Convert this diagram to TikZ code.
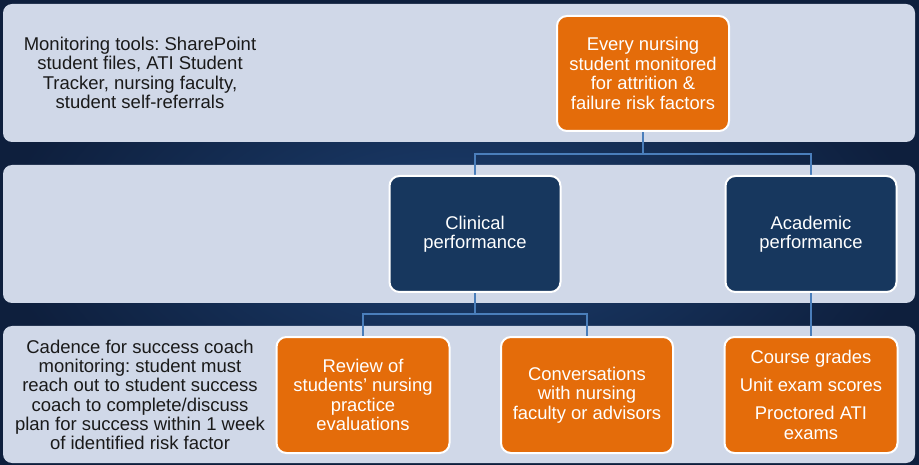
\documentclass[tikz,border=0pt]{standalone}
\usepackage{fontspec}
\setmainfont{Liberation Sans}
\frenchspacing
\usetikzlibrary{backgrounds}
\definecolor{bandc}{HTML}{D0D8E8}
\definecolor{orangec}{HTML}{E46C0A}
\definecolor{navyc}{HTML}{17375E}
\definecolor{connc}{HTML}{4A7EBB}
\definecolor{bgin}{HTML}{1C3F70}
\definecolor{bgout}{HTML}{0E1F3D}
\definecolor{txtc}{HTML}{1A1A1A}
\pgfdeclarelayer{bands}
\pgfdeclarelayer{lines}
\pgfsetlayers{background,bands,lines,main}
\tikzset{
  band/.style={fill=bandc, draw=none, rounded corners=9pt},
  boxbase/.style={draw=white, line width=2pt, rounded corners=10pt, text=white, align=center,
    font=\fontsize{18.4}{19.5}\selectfont, inner sep=2pt},
  orangebox/.style={boxbase, fill=orangec},
  navybox/.style={boxbase, fill=navyc},
  bandtext/.style={text=txtc, align=center, font=\fontsize{18.5}{19.3}\selectfont, inner sep=0pt},
  conn/.style={draw=connc, line width=2pt}
}
\begin{document}
\begin{tikzpicture}[x=1pt,y=-1pt]
\useasboundingbox (0,0) rectangle (919,465);
\begin{pgfonlayer}{background}
\shade[inner color=bgin, outer color=bgout] (0,0) rectangle (919,465);
\end{pgfonlayer}
\begin{pgfonlayer}{bands}
\path[band] (3,4) rectangle (915,142);
\path[band] (3,165) rectangle (915,303);
\path[band] (3,326) rectangle (915,463);
\end{pgfonlayer}
% band texts
\node[bandtext] (tools) at (140,73) {Monitoring tools: SharePoint\\student files, ATI Student\\Tracker, nursing faculty,\\student self-referrals};
\node[bandtext] (cadence) at (140,395) {Cadence for success coach\\monitoring: student must\\reach out to student success\\coach to complete/discuss\\plan for success within 1 week\\of identified risk factor};
% nodes
\node[orangebox, minimum width=172pt, minimum height=115pt] (top) at (643,73.5) {Every nursing\\student monitored\\for attrition \&\\failure risk factors};
\node[navybox, minimum width=171pt, minimum height=116pt] (clin) at (475,234) {Clinical\\performance};
\node[navybox, minimum width=171pt, minimum height=116pt] (acad) at (811,234) {Academic\\performance};
\node[orangebox, minimum width=173pt, minimum height=116pt] (rev) at (363,395) {Review of\\students’ nursing\\practice\\evaluations};
\node[orangebox, minimum width=172pt, minimum height=116pt] (conv) at (587,395) {Conversations\\with nursing\\faculty or advisors};
\node[orangebox, minimum width=173pt, minimum height=116pt] (course) at (811,395) {Course grades\\[8.5pt]Unit exam scores\\[8.5pt]Proctored ATI\\exams};
% connectors
\coordinate (j1) at (643,154);
\coordinate (j2) at (475,314);
\begin{pgfonlayer}{lines}
\draw[conn] (top.south) -- (j1) -| (clin.north);
\draw[conn] (j1) -| (acad.north);
\draw[conn] (clin.south) -- (j2) -| (rev.north);
\draw[conn] (j2) -| (conv.north);
\draw[conn] (acad.south) -- (course.north);
\end{pgfonlayer}
\end{tikzpicture}
\end{document}
